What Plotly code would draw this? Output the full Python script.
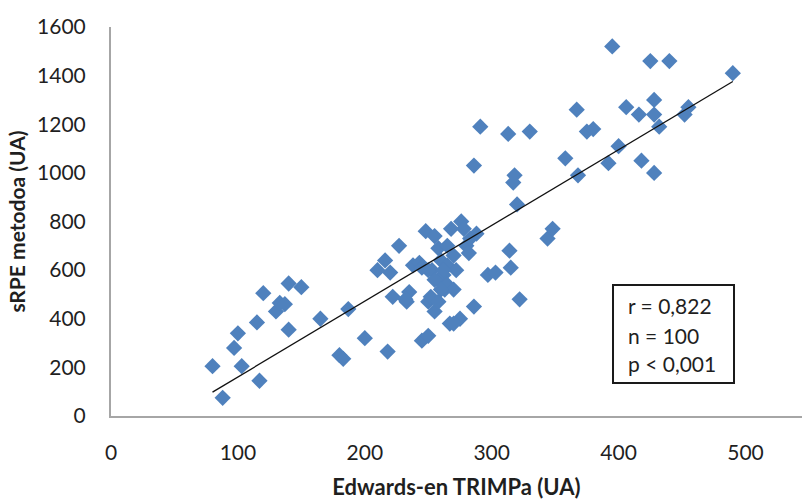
import numpy as np
import plotly.graph_objects as go

# Edwards TRIMP (UA)
trimp = [80, 88, 97, 100, 103, 115, 117, 120, 130, 133, 137, 140, 140, 150, 165,
         180, 183, 187, 200, 210, 216, 218, 220, 222, 227, 233, 235, 238, 243, 245,
         248, 250, 250, 252, 253, 255, 255, 258, 258, 260, 262, 263, 265, 265, 267,
         268, 270, 270, 272, 275, 276, 278, 280, 282, 286, 288, 286, 291, 297, 303,
         313, 314, 315, 317, 318, 320, 322, 330, 344, 348, 358, 367, 368, 375, 380,
         392, 395, 400, 406, 416, 418, 425, 428, 428, 428, 432, 440, 452, 455, 490,
         255, 260, 250, 265, 283, 245, 258, 270, 232, 262]
# sRPE (UA)
srpe = [205, 75, 280, 340, 205, 385, 145, 505, 430, 465, 460, 545, 355, 530, 400,
        250, 235, 440, 320, 600, 640, 265, 590, 490, 700, 470, 510, 620, 630, 310,
        760, 330, 470, 490, 600, 740, 430, 560, 690, 640, 580, 520, 540, 620, 380,
        770, 520, 660, 600, 400, 800, 770, 700, 670, 450, 750, 1030, 1190, 580, 590,
        1160, 680, 610, 960, 990, 870, 480, 1170, 730, 770, 1060, 1260, 990, 1170, 1180,
        1040, 1520, 1110, 1270, 1240, 1050, 1460, 1300, 1240, 1000, 1190, 1460, 1240, 1270, 1410,
        560, 520, 600, 700, 730, 610, 470, 380, 480, 600]

x_ticks = [0, 100, 200, 300, 400, 500]
y_ticks = [0, 200, 400, 600, 800, 1000, 1200, 1400, 1600]
stats_lines = ["r = 0,822", "n = 100", "p < 0,001"]

x = np.array(trimp, dtype=float)
y = np.array(srpe, dtype=float)
slope, intercept = np.polyfit(x, y, 1)
xl = np.array([x.min(), x.max()])
yl = slope * xl + intercept

fig = go.Figure()
fig.add_trace(go.Scatter(x=trimp, y=srpe, mode="markers",
                         marker=dict(symbol="diamond", size=12.5, color="#4F81BD",
                                     line=dict(width=0)),
                         showlegend=False, hoverinfo="x+y"))
fig.add_trace(go.Scatter(x=xl, y=yl, mode="lines",
                         line=dict(color="#111111", width=1.3),
                         showlegend=False, hoverinfo="skip"))

font_family = "Lato, Open Sans, sans-serif"
txt_color = "#1f1f1f"
fig.update_layout(
    width=802, height=503,
    margin=dict(l=111, r=0, t=27, b=87),
    paper_bgcolor="white", plot_bgcolor="white",
    font=dict(family=font_family, size=22, color=txt_color),
    xaxis=dict(range=[0, 691 / 1.269], tickvals=x_ticks, ticktext=[str(v) for v in x_ticks],
               showgrid=False, zeroline=False, showline=True, linecolor="#A6A6A6",
               linewidth=2, ticks="", ticklabelstandoff=17,
               tickfont=dict(size=21),
               title=dict(text="<b>Edwards-en TRIMPa (UA)</b>", standoff=16,
                          font=dict(size=22))),
    yaxis=dict(range=[0, 1600], tickvals=y_ticks, ticktext=[str(v) for v in y_ticks],
               showgrid=False, zeroline=False, showline=True, linecolor="#A6A6A6",
               linewidth=2, ticks="", ticklabelstandoff=19,
               tickfont=dict(size=21),
               title=dict(text="<b>sRPE metodoa (UA)</b>", standoff=6,
                          font=dict(size=21))),
)

# statistics box
fig.add_shape(type="rect", xref="paper", yref="paper",
              x0=0.7265, x1=0.9016, y0=0.0848, y1=0.3368,
              line=dict(color="#1a1a1a", width=2), fillcolor="white")
line_y = [0.2853, 0.2082, 0.1337]
for s, yy in zip(stats_lines, line_y):
    fig.add_annotation(xref="paper", yref="paper", x=0.7453, y=yy,
                       xanchor="left", yanchor="middle", align="left", showarrow=False,
                       text=s, font=dict(size=21, color=txt_color, family=font_family))

fig.write_html("out.html")
